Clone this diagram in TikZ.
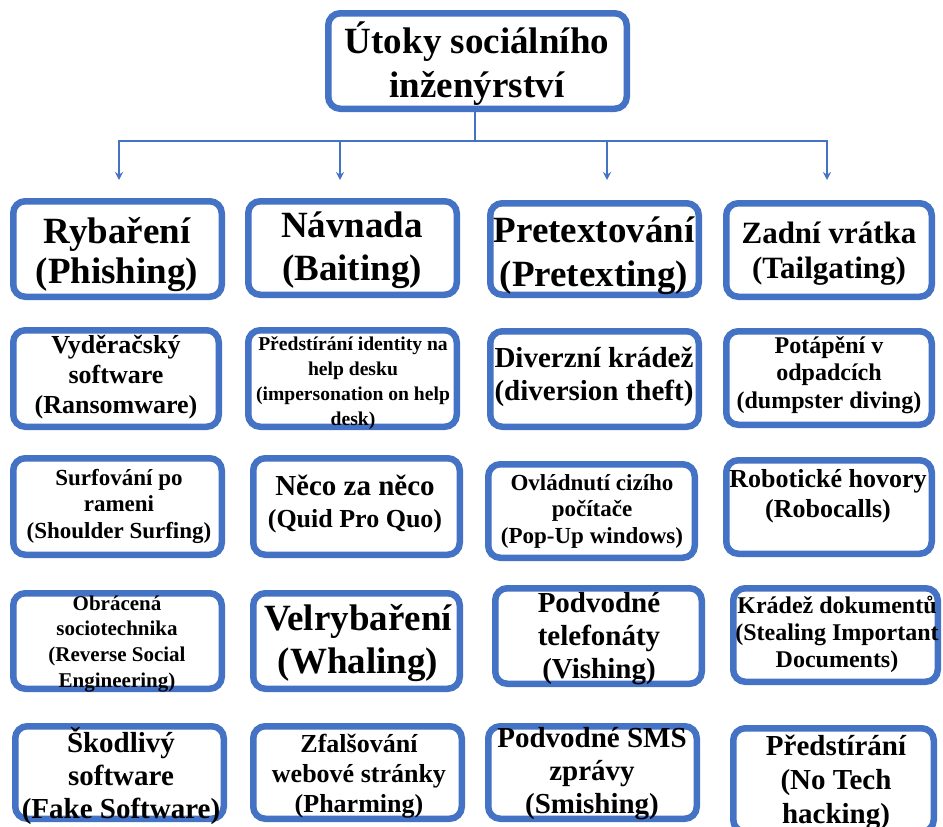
\documentclass[tikz,border=0pt]{standalone}
\usepackage{fontspec}
\setmainfont{Liberation Serif}
\usetikzlibrary{arrows.meta}
\definecolor{bblue}{RGB}{68,114,196}
\newcommand\mkbox[5]{\node[cbox,minimum width={(#4)-(#2)-6.5},minimum height={(#5)-(#3)-6.5}] (#1) at ({((#2)+(#4))/2},{((#3)+(#5))/2}) {};}
\newcommand\mktext[6]{\node[ctext,font=\fontsize{#4}{#5}\selectfont\bfseries] (#1) at (#2,{(#3)-(#4)}) {\rule{0pt}{#4pt}#6};}
\begin{document}
\lineskiplimit=-60pt
\begin{tikzpicture}[x=1pt,y=-1pt,
  cbox/.style={draw=bblue,line width=6.5pt,rounded corners=12pt,inner sep=0pt},
  ctext/.style={anchor=north,align=center,inner sep=0pt,text=black},
  conn/.style={draw=bblue,line width=2pt},
  arr/.style={conn,-{Stealth[length=8pt,width=8pt]}}]
\useasboundingbox (0,0) rectangle (943,827);
% boxes
\mkbox{top}{325}{10}{630}{112}
\mkbox{a1}{10}{198}{225}{300}
\mkbox{b1}{245}{198}{460}{298}
\mkbox{c1}{487}{200}{702}{298}
\mkbox{d1}{723}{200}{935}{300}
\mkbox{a2}{10}{327}{222}{430}
\mkbox{b2}{245}{327}{460}{430}
\mkbox{c2}{487}{328}{702}{430}
\mkbox{d2}{723}{328}{935}{428}
\mkbox{a3}{10}{455}{225}{558}
\mkbox{b3}{250}{455}{463}{558}
\mkbox{c3}{485}{461}{698}{561}
\mkbox{d3}{723}{457}{935}{557}
\mkbox{a4}{10}{590}{225}{692}
\mkbox{b4}{250}{590}{463}{692}
\mkbox{c4}{492}{585}{705}{687}
\mkbox{d4}{730}{585}{941}{685}
\mkbox{a5}{12}{723}{227}{822}
\mkbox{b5}{250}{723}{465}{822}
\mkbox{c5}{485}{723}{700}{822}
\mkbox{d5}{730}{725}{937}{835}
% connectors
\coordinate (hub) at (475,141);
\coordinate (ta) at (119,180);
\coordinate (tb) at (340,180);
\coordinate (tc) at (607,180);
\coordinate (td) at (827,180);
\draw[conn] (hub |- top.south) -- (hub);
\draw[arr] (hub) -| (ta);
\draw[arr] (hub) -| (tb);
\draw[arr] (hub) -| (tc);
\draw[arr] (hub) -| (td);
% texts
\mktext{topt}{477}{53}{37}{44}{Útoky sociálního\\inženýrství}
\mktext{a1t}{117}{243}{37}{40}{Rybaření\\(Phishing)}
\mktext{b1t}{352}{237}{37}{43}{Návnada\\(Baiting)}
\mktext{c1t}{594}{242}{37}{44}{Pretextování\\(Pretexting)}
\mktext{d1t}{829}{243}{31}{35}{Zadní vrátka\\(Tailgating)}
\mktext{a2t}{116}{353}{26}{30}{Vyděračský\\software\\(Ransomware)}
\mktext{b2t}{353}{350}{19.6}{25}{Předstírání identity na\\help desku\\(impersonation on help\\desk)}
\mktext{c2t}{594}{367}{29}{33}{Diverzní krádež\\(diversion theft)}
\mktext{d2t}{829}{353}{24}{27.5}{Potápění v\\odpadcích\\(dumpster diving)}
\mktext{a3t}{119}{485}{23}{26.5}{Surfování po\\rameni\\(Shoulder Surfing)}
\mktext{b3t}{355}{495}{29}{32}{Něco za něco\\{\fontsize{26}{32}\selectfont (Quid Pro Quo)}}
\mktext{c3t}{592}{490}{23}{26.5}{Ovládnutí cizího\\počítače\\(Pop-Up windows)}
\mktext{d3t}{828}{487}{26}{30}{Robotické hovory\\(Robocalls)}
\mktext{a4t}{117}{610}{21}{25.6}{Obrácená\\sociotechnika\\(Reverse Social\\Engineering)}
\mktext{b4t}{358}{630}{37}{43}{Velrybaření\\(Whaling)}
\mktext{c4t}{599}{612}{29}{33}{Podvodné\\telefonáty\\(Vishing)}
\mktext{d4t}{837}{613}{24}{27}{Krádež dokumentů\\(Stealing Important\\Documents)}
\mktext{a5t}{121}{752}{29}{33}{Škodlivý\\software\\(Fake Software)}
\mktext{b5t}{359}{752}{26}{30}{Zfalšování\\webové stránky\\(Pharming)}
\mktext{c5t}{592}{747}{29}{33}{Podvodné SMS\\zprávy\\(Smishing)}
\mktext{d5t}{836}{755}{29}{34}{Předstírání\\(No Tech\\hacking)}
\end{tikzpicture}
\end{document}
